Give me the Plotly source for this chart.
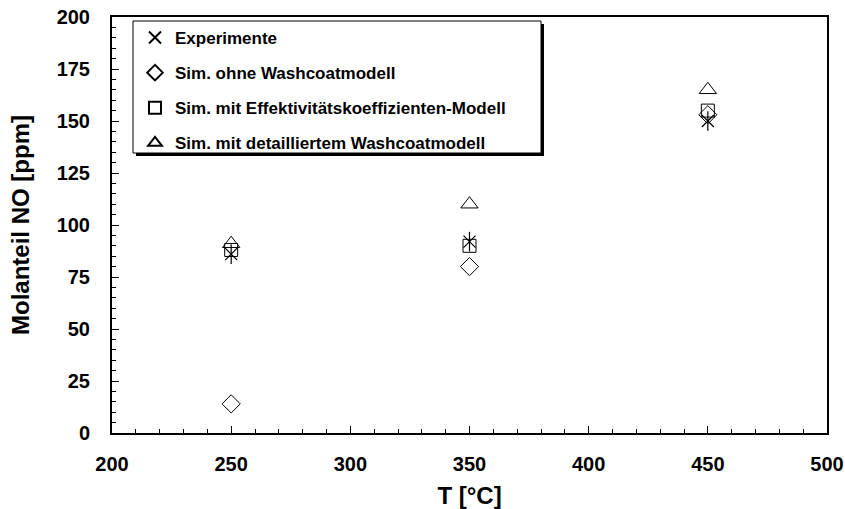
import plotly.graph_objects as go

# Temperatures [°C]
temperatur = [250, 350, 450]

# NO mole fraction [ppm]
experimente = [86, 92, 150]
sim_ohne_washcoat = [14, 80, 153]
sim_effektivitaet = [88, 90, 155]
sim_detailliert = [91, 110, 165]

namen = [
    "Experimente",
    "Sim. ohne Washcoatmodell",
    "Sim. mit Effektivitätskoeffizienten-Modell",
    "Sim. mit detailliertem Washcoatmodell",
]

FONT = "Liberation Sans, Arial, sans-serif"
W, H = 845, 509
ML, MR, MT, MB = 112, 18, 17, 76
PW, PH = W - ML - MR, H - MT - MB


def px_x(p):
    return (p - ML) / PW


def px_y(p):
    return (H - MB - p) / PH


fig = go.Figure()

line = dict(color="black", width=1)

fig.add_trace(go.Scatter(
    x=temperatur, y=experimente, mode="markers", name=namen[0],
    legendgroup="g0",
    marker=dict(symbol="x-thin-open", size=12, color="black", line=dict(color="black", width=1.2)),
))
fig.add_trace(go.Scatter(
    x=temperatur, y=experimente, mode="markers", name=namen[0],
    legendgroup="g0", showlegend=False,
    marker=dict(symbol="line-ns-open", size=14, color="black", line=dict(color="black", width=1.2)),
))
fig.add_trace(go.Scatter(
    x=temperatur, y=sim_ohne_washcoat, mode="markers", name=namen[1],
    legendgroup="g1",
    marker=dict(symbol="diamond-open", size=14, color="black", line=line),
))
fig.add_trace(go.Scatter(
    x=temperatur, y=sim_effektivitaet, mode="markers", name=namen[2],
    legendgroup="g2",
    marker=dict(symbol="square-open", size=13, color="black", line=line),
))
fig.add_trace(go.Scatter(
    x=temperatur, y=sim_detailliert, mode="markers", name=namen[3],
    legendgroup="g3",
    marker=dict(symbol="triangle-up-open", size=15, color="black", line=line),
))

# legend frame with drop shadow
bx0, by0, bx1, by1 = 133, 21, 541, 153
shadow = 3
fig.add_shape(type="rect", xref="paper", yref="paper",
              x0=px_x(bx0 + shadow), x1=px_x(bx1 + shadow),
              y0=px_y(by1 + shadow), y1=px_y(by0 + shadow),
              fillcolor="black", line=dict(width=0), layer="above")
fig.add_shape(type="rect", xref="paper", yref="paper",
              x0=px_x(bx0), x1=px_x(bx1), y0=px_y(by1), y1=px_y(by0),
              fillcolor="white", line=dict(color="black", width=1), layer="above")

axis_common = dict(
    showline=True, linecolor="black", linewidth=2, mirror=True,
    ticks="inside", tickcolor="black", tickwidth=1, ticklen=7,
    showgrid=False, zeroline=False, automargin=False,
    tickfont=dict(family=FONT, size=20, color="black", weight="bold"),
)

fig.update_xaxes(
    range=[200, 500], dtick=50, tick0=200,
    minor=dict(dtick=10, ticks="inside", ticklen=4, tickcolor="black", tickwidth=1),
    ticklabelstandoff=12,
    title=dict(text="<b>T [°C]</b>", font=dict(family=FONT, size=24, color="black"), standoff=13),
    **axis_common,
)
fig.update_yaxes(
    range=[0, 200], dtick=25, tick0=0,
    minor=dict(dtick=5, ticks="inside", ticklen=4, tickcolor="black", tickwidth=1),
    ticklabelstandoff=16,
    title=dict(text="<b>Molanteil NO [ppm]</b>", font=dict(family=FONT, size=24, color="black"), standoff=20),
    **axis_common,
)

fig.update_layout(
    width=W, height=H,
    margin=dict(l=ML, r=MR, t=MT, b=MB),
    paper_bgcolor="white", plot_bgcolor="white",
    showlegend=True,
    legend=dict(
        x=px_x(bx0 + 2), y=px_y(by0 - 1), xanchor="left", yanchor="top",
        bgcolor="rgba(0,0,0,0)", borderwidth=0,
        font=dict(family=FONT, size=17, color="black", weight="bold"),
        tracegroupgap=10, itemwidth=30, itemsizing="constant",
    ),
)

fig.write_html("out.html")
